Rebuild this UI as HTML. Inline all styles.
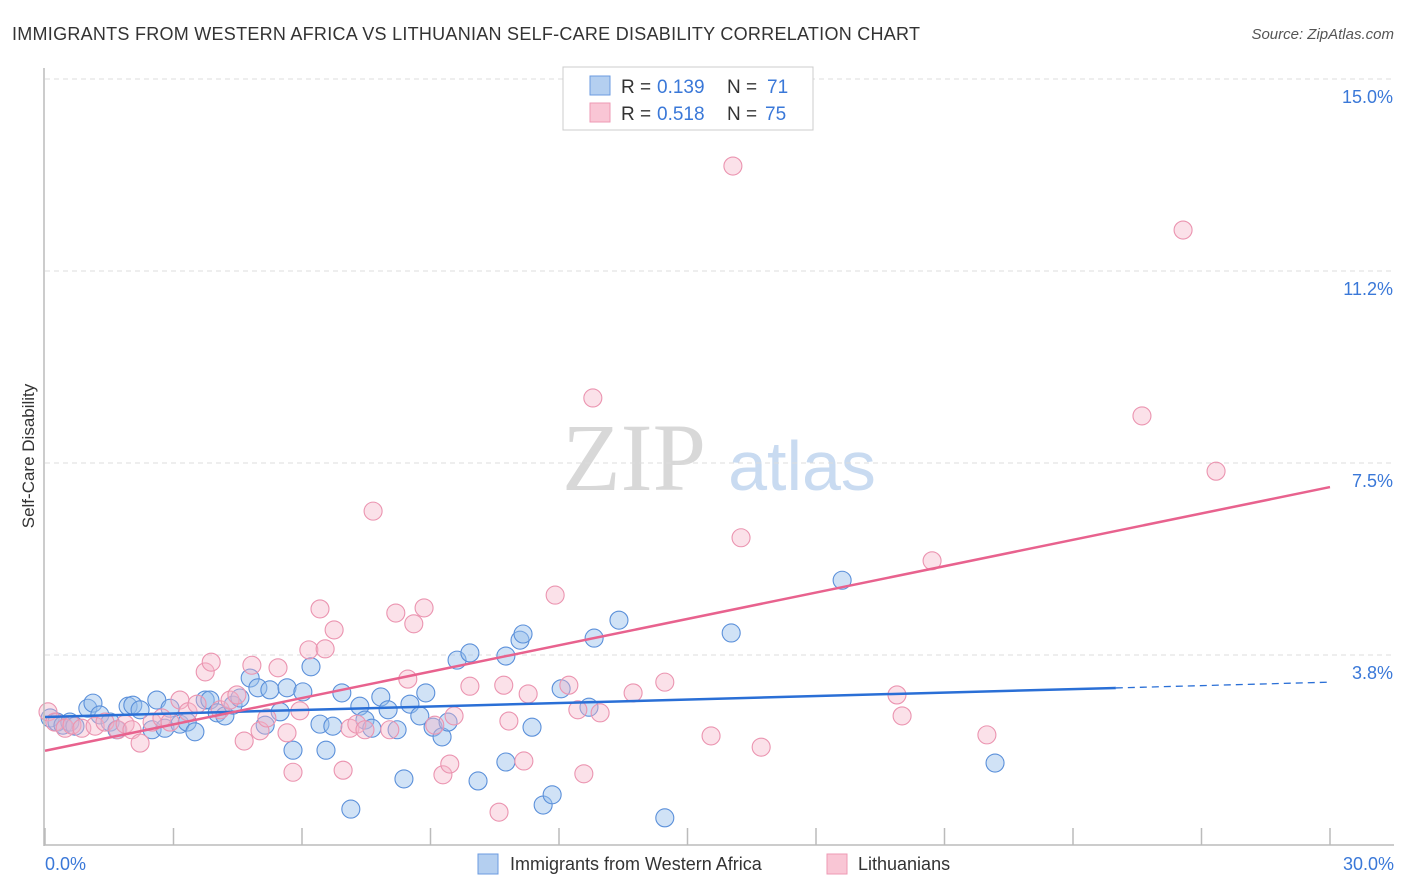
<!DOCTYPE html>
<html><head><meta charset="utf-8"><style>
body{margin:0;background:#fff;font-family:"Liberation Sans",sans-serif;}
#wrap{position:relative;width:1406px;height:892px;overflow:hidden;}
</style></head><body>
<div id="wrap">
<svg id="svg" width="1406" height="892" xmlns="http://www.w3.org/2000/svg">
<text x="12" y="40" font-size="18" fill="#333" textLength="908" lengthAdjust="spacing">IMMIGRANTS FROM WESTERN AFRICA VS LITHUANIAN SELF-CARE DISABILITY CORRELATION CHART</text>
<text x="1394" y="39" font-size="15" fill="#555" font-style="italic" text-anchor="end">Source: ZipAtlas.com</text>
<text x="634" y="490" font-size="96" fill="#d8d8d8" font-family="Liberation Serif,serif" text-anchor="middle">ZIP</text>
<text x="802" y="490" font-size="70" fill="#c9dbf1" text-anchor="middle">atlas</text>
<text transform="translate(34,456) rotate(-90)" font-size="17" fill="#333" text-anchor="middle">Self-Care Disability</text>
<g id="grid"></g><g id="pts"></g><g id="lines"></g>
<line x1="44" y1="68" x2="44" y2="846" stroke="#bbb" stroke-width="1.5"/>
<line x1="44" y1="845" x2="1394" y2="845" stroke="#bbb" stroke-width="1.5"/>
<text x="45" y="870" font-size="18" fill="#3a78d8">0.0%</text>
<text x="1394" y="870" font-size="18" fill="#3a78d8" text-anchor="end">30.0%</text>
<g>
<rect x="563" y="67" width="250" height="63" fill="#fff" stroke="#ccc"/>
<rect x="590" y="76" width="20" height="19" fill="#b4cff0" stroke="#6b9be0"/>
<rect x="590" y="103" width="20" height="19" fill="#f9c6d5" stroke="#ee99b4"/>
<text x="621" y="93" font-size="19" fill="#333">R =</text><text x="657" y="93" font-size="19" fill="#3a78d8">0.139</text>
<text x="727" y="93" font-size="19" fill="#333">N =</text><text x="767" y="93" font-size="19" fill="#3a78d8">71</text>
<text x="621" y="120" font-size="19" fill="#333">R =</text><text x="657" y="120" font-size="19" fill="#3a78d8">0.518</text>
<text x="727" y="120" font-size="19" fill="#333">N =</text><text x="765" y="120" font-size="19" fill="#3a78d8">75</text>
</g>
<g>
<rect x="478" y="854" width="20" height="20" fill="#b4cff0" stroke="#6b9be0"/>
<text x="510" y="870" font-size="18" fill="#333">Immigrants from Western Africa</text>
<rect x="827" y="854" width="20" height="20" fill="#f9c6d5" stroke="#ee99b4"/>
<text x="858" y="870" font-size="18" fill="#333">Lithuanians</text>
</g>
</svg>
<script>
const yTicks=[15.0,11.25,7.5,3.75];
const yTickLabels=["15.0%","11.2%","7.5%","3.8%"];
const xTicks=[0,3,6,9,12,15,18,21,24,27,30];
const blueX=[0.12,0.28,0.42,0.58,0.70,1.00,1.12,1.28,1.52,1.68,1.94,2.05,2.22,2.50,2.61,2.80,2.92,3.15,3.32,3.50,3.74,3.85,4.02,4.20,4.39,4.55,4.79,4.97,5.14,5.25,5.49,5.65,5.79,6.02,6.21,6.42,6.56,6.72,6.93,7.14,7.35,7.47,7.63,7.84,8.01,8.22,8.38,8.52,8.75,8.89,9.06,9.27,9.41,9.62,9.92,10.11,10.76,10.76,11.09,11.16,11.37,11.63,11.84,12.05,12.70,12.82,13.40,14.47,16.02,18.61,22.18];
const blueY=[2.52,2.44,2.38,2.44,2.36,2.71,2.81,2.58,2.44,2.29,2.75,2.77,2.68,2.29,2.87,2.32,2.71,2.40,2.44,2.25,2.87,2.87,2.62,2.56,2.77,2.91,3.30,3.11,2.38,3.07,2.64,3.11,1.89,3.03,3.52,2.40,1.89,2.36,3.01,0.74,2.75,2.48,2.32,2.93,2.68,2.29,1.33,2.79,2.56,3.01,2.34,2.15,2.44,3.65,3.79,1.29,3.73,1.66,4.04,4.16,2.34,0.82,1.02,3.09,2.73,4.08,4.43,0.57,4.18,5.21,1.64];
const pinkX=[0.07,0.23,0.47,0.63,0.86,1.17,1.40,1.70,1.87,2.03,2.22,2.50,2.73,2.92,3.15,3.34,3.55,3.74,3.88,4.09,4.32,4.48,4.65,4.83,5.02,5.18,5.44,5.65,5.79,5.95,6.16,6.42,6.54,6.75,6.96,7.12,7.28,7.47,7.66,8.05,8.19,8.47,8.61,8.85,9.10,9.29,9.45,9.55,9.92,10.60,10.71,10.83,11.18,11.28,11.91,12.23,12.44,12.58,12.79,12.96,13.73,14.47,15.55,16.06,16.25,16.72,19.89,20.01,20.71,21.99,25.61,26.57,27.34];
const pinkY=[2.64,2.44,2.32,2.38,2.32,2.36,2.44,2.29,2.40,2.29,2.03,2.44,2.52,2.44,2.87,2.64,2.79,3.42,3.61,2.68,2.87,2.97,2.07,3.55,2.27,2.52,3.50,2.23,1.46,2.66,3.85,4.65,3.87,4.24,1.50,2.32,2.40,2.29,6.56,2.29,4.57,3.28,4.36,4.67,2.38,1.41,1.62,2.56,3.14,0.68,3.16,2.46,1.68,2.99,4.92,3.16,2.68,1.43,8.77,2.62,3.01,3.22,2.17,13.30,6.04,1.95,2.97,2.56,5.59,2.19,8.42,12.05,7.34];
const blueTrend=[2.54,3.22];
const pinkTrend=[1.88,7.03];
const blueSolidEnd=25;
const NS="http://www.w3.org/2000/svg";
function sx(v){return 45+v/30*1285;}
function sy(v){return 847-v*51.2;}
function mk(tag,attrs,parent){const e=document.createElementNS(NS,tag);for(const k in attrs)e.setAttribute(k,attrs[k]);parent.appendChild(e);return e;}
const grid=document.getElementById('grid');
yTicks.forEach((t,i)=>{
 const l=mk('line',{x1:45,x2:1394,y1:sy(t),y2:sy(t),stroke:'#ddd','stroke-dasharray':'5,4'},grid);
 
 
 const tx=mk('text',{x:1393,y:sy(t)+24,'font-size':18,fill:'#3a78d8','text-anchor':'end'},grid);
 tx.textContent=yTickLabels[i];
 
 
});
xTicks.forEach(t=>{
 const l=mk('line',{x1:sx(t),x2:sx(t),y1:828,y2:845,stroke:'#bbb','stroke-width':1.5},grid);
 
 
});
const pts=document.getElementById('pts');
blueX.forEach((x,i)=>{
 const c=mk('circle',{cx:sx(x),cy:sy(blueY[i]),r:9,fill:'rgba(150,190,236,0.45)',stroke:'#5b90da','stroke-width':1.1},pts);
 
 
});
pinkX.forEach((x,i)=>{
 const c=mk('circle',{cx:sx(x),cy:sy(pinkY[i]),r:9,fill:'rgba(246,180,200,0.4)',stroke:'#eb94b0','stroke-width':1.1},pts);
 
 
});
const lines=document.getElementById('lines');
const bAt=v=>blueTrend[0]+(blueTrend[1]-blueTrend[0])*v/30;
let l1=mk('line',{x1:sx(0),y1:sy(bAt(0)),x2:sx(blueSolidEnd),y2:sy(bAt(blueSolidEnd)),stroke:'#2a6fd6','stroke-width':2.5},lines);


let l2=mk('line',{x1:sx(blueSolidEnd),y1:sy(bAt(blueSolidEnd)),x2:sx(30),y2:sy(bAt(30)),stroke:'#2a6fd6','stroke-width':1.3,'stroke-dasharray':'7,5'},lines);


let l3=mk('line',{x1:sx(0),y1:sy(pinkTrend[0]),x2:sx(30),y2:sy(pinkTrend[1]),stroke:'#e8628e','stroke-width':2.5},lines);


</script>
</div>
</body></html>
